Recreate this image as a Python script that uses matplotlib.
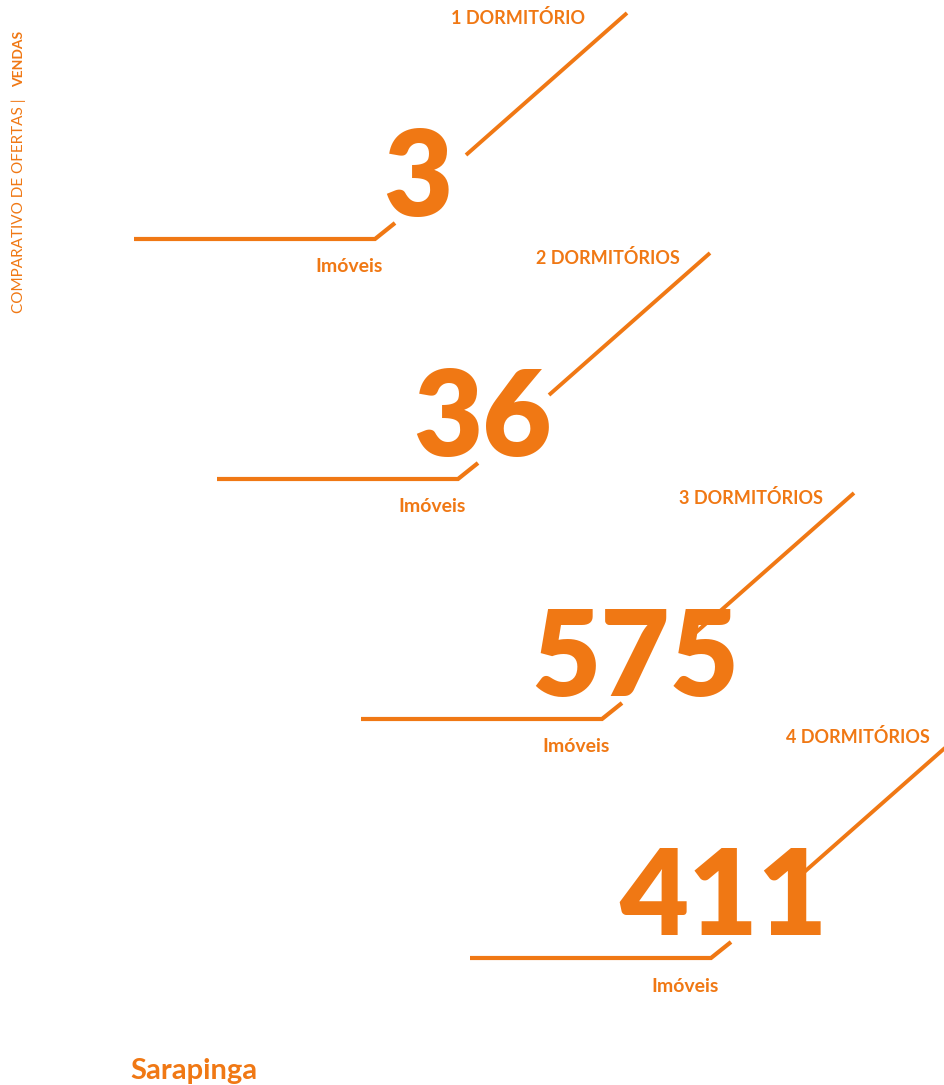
import matplotlib.pyplot as plt

plt.rcParams['font.family'] = ['Lato', 'DejaVu Sans']

ORANGE = '#F07814'

categories = ['1 DORMITÓRIO', '2 DORMITÓRIOS', '3 DORMITÓRIOS', '4 DORMITÓRIOS']
counts = [3, 36, 575, 411]
unit = 'Imóveis'
place = 'Sarapinga'

# layout anchors per block (pixel coords: left end of base line, baseline y)
base_x = [134, 217, 361, 470]
base_y = [239, 479, 719, 958]
num_dx = [284, 265, 274, 253]     # centre of big number from left end
lab_dx = [384, 391, 390, 388]     # centre of category label from left end

fig = plt.figure(figsize=(9.45, 10.85), dpi=100)
ax = fig.add_axes([0, 0, 1, 1])
ax.set_xlim(0, 945)
ax.set_ylim(1085, 0)
ax.axis('off')

for cat, n, x0, y0, ndx, ldx in zip(categories, counts, base_x, base_y, num_dx, lab_dx):
    x1 = x0 + 241
    # base line with small kink
    ax.plot([x0, x1, x1 + 20], [y0, y0, y0 - 16], color=ORANGE, lw=3,
            solid_capstyle='butt', solid_joinstyle='miter')
    # long diagonal to the label
    ax.plot([x0 + 332, x0 + 493], [y0 - 84, y0 - 226], color=ORANGE, lw=2.8,
            solid_capstyle='butt')
    ax.text(x0 + ndx, y0 - 58, str(n), color=ORANGE, fontsize=86, fontweight='heavy',
            ha='center', va='center')
    ax.text(x0 + ldx, y0 - 221, cat, color=ORANGE, fontsize=13, fontweight='bold',
            ha='center', va='center')
    ax.text(x0 + 215, y0 + 28, unit, color=ORANGE, fontsize=14, fontweight='bold',
            ha='center', va='center')

ax.text(130, 1071, place, color=ORANGE, fontsize=21, fontweight='bold',
        ha='left', va='center')

ax.text(19, 313, 'COMPARATIVO DE OFERTAS |', color=ORANGE, fontsize=11,
        rotation=90, rotation_mode='anchor', ha='left', va='center')
ax.text(19, 31, 'VENDAS', color=ORANGE, fontsize=10, fontweight='bold',
        rotation=90, rotation_mode='anchor', ha='right', va='center')

fig.savefig('out.png', dpi=100)
